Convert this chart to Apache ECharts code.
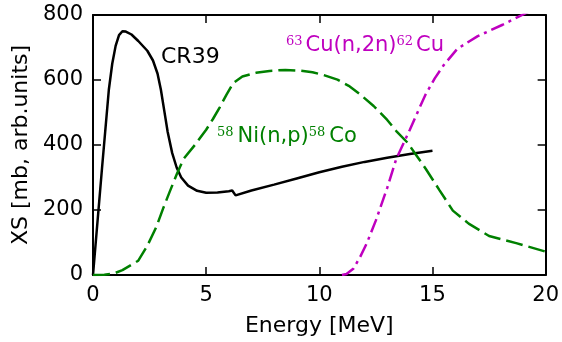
<!DOCTYPE html>
<html>
<head>
<meta charset="utf-8">
<script src="https://cdn.jsdelivr.net/npm/echarts@6/dist/echarts.min.js"></script>
<style>
  html, body { margin: 0; padding: 0; background: #fff; }
  #chart { width: 562px; height: 342px; }
</style>
</head>
<body>
<div id="chart"></div>
<script>
// 能量刻度 / 截面刻度
const xTicks = [0, 5, 10, 15, 20];
const yTicks = [0, 200, 400, 600, 800];

// CR39 响应曲线
const cr39E  = [0, 0.4, 0.7, 0.85, 1.0, 1.15, 1.3, 1.45, 1.7, 2.0, 2.4, 2.65, 2.85, 3.0, 3.15, 3.3, 3.5, 3.7, 3.9, 4.2, 4.6, 5.0, 5.5, 6.0, 6.15, 6.3, 7, 8, 9, 10, 11, 12, 13, 14, 15];
const cr39XS = [0, 330, 570, 650, 705, 738, 750, 749, 740, 720, 690, 660, 620, 570, 505, 440, 375, 330, 300, 275, 259, 253, 254, 258, 260, 245, 260, 278, 297, 316, 333, 348, 361, 372, 382];

// 58Ni(n,p)58Co
const niE  = [0, 0.5, 0.9, 1.3, 2.0, 2.4, 2.8, 3.1, 3.4, 3.7, 4.0, 4.5, 5.0, 5.3, 5.6, 5.9, 6.2, 6.6, 7.2, 7.8, 8.5, 9.1, 9.7, 10.2, 10.8, 11.3, 11.8, 12.4, 13.0, 13.4, 13.9, 14.3, 14.7, 15.3, 15.9, 16.6, 17.5, 18.7, 20];
const niXS = [0, 1, 4, 15, 44, 90, 148, 205, 258, 310, 357, 400, 447, 480, 516, 555, 591, 611, 622, 628, 631, 629, 624, 615, 601, 582, 556, 520, 477, 443, 407, 367, 327, 262, 198, 158, 120, 98, 72];

// 63Cu(n,2n)62Cu
const cuE  = [11.0, 11.2, 11.5, 11.8, 12.1, 12.5, 13.0, 13.4, 14.0, 14.4, 14.7, 15.1, 15.5, 16.1, 17.0, 18.1, 19.1, 20];
const cuXS = [0, 3, 19, 55, 98, 168, 268, 357, 447, 510, 556, 605, 646, 696, 735, 770, 805, 830];

const FONT = 'DejaVu Sans';
const zip = (a, b) => a.map((v, i) => [v, b[i]]);

let chart = echarts.init(document.getElementById('chart'));

// 公共的坐标轴样式（刻度朝内，黑色边框）
const axisBase = {
  type: 'value',
  axisLine: { show: true, onZero: false, lineStyle: { color: '#000', width: 2 } },
  axisTick: { show: true, inside: true, length: 8, lineStyle: { color: '#000', width: 1.5 } },
  splitLine: { show: false }
};

chart.setOption({
  animation: false,
  backgroundColor: '#fff',
  grid: { left: 93, right: 16, top: 15, bottom: 59 },
  xAxis: [
    Object.assign({}, axisBase, {
      position: 'bottom',
      min: xTicks[0], max: xTicks[xTicks.length - 1], interval: 5,
      axisLabel: { color: '#000', fontFamily: FONT, fontSize: 21, margin: 10 },
      name: 'Energy [MeV]',
      nameLocation: 'middle',
      nameGap: 40,
      nameTextStyle: { color: '#000', fontFamily: FONT, fontSize: 22 }
    }),
    Object.assign({}, axisBase, {
      position: 'top',
      min: xTicks[0], max: xTicks[xTicks.length - 1], interval: 5,
      axisLabel: { show: false }
    })
  ],
  yAxis: [
    Object.assign({}, axisBase, {
      position: 'left',
      min: yTicks[0], max: yTicks[yTicks.length - 1], interval: 200,
      axisLabel: { color: '#000', fontFamily: FONT, fontSize: 21, margin: 10 },
      name: 'XS [mb, arb.units]',
      nameLocation: 'middle',
      nameGap: 58,
      nameTextStyle: { color: '#000', fontFamily: FONT, fontSize: 22 }
    }),
    Object.assign({}, axisBase, {
      position: 'right',
      min: yTicks[0], max: yTicks[yTicks.length - 1], interval: 200,
      axisLabel: { show: false }
    })
  ],
  series: [
    {
      name: 'CR39',
      type: 'line',
      data: zip(cr39E, cr39XS),
      symbol: 'none',
      lineStyle: { color: '#000', width: 2.5 }
    },
    {
      name: 'Ni',
      type: 'line',
      data: zip(niE, niXS),
      symbol: 'none',
      lineStyle: { color: '#008000', width: 2.5, type: [17, 6] }
    },
    {
      name: 'Cu',
      type: 'line',
      data: zip(cuE, cuXS),
      symbol: 'none',
      clip: true,
      lineStyle: { color: '#bf00bf', width: 2.5, type: [14, 5, 3, 5] }
    }
  ],
  graphic: [
    {
      type: 'text', left: 161, top: 46,
      style: { text: 'CR39', fill: '#000', font: '22px "DejaVu Sans"' }
    },
    {
      type: 'text', left: 217, top: 126,
      style: {
        text: '{sup|58}{main|Ni(n,p)}{sup|58}{main|Co}',
        rich: {
          sup: { fill: '#008000', fontFamily: 'DejaVu Serif', fontSize: 13, verticalAlign: 'top', padding: [0, 4, 0, 0] },
          main: { fill: '#008000', fontFamily: FONT, fontSize: 21 }
        }
      }
    },
    {
      type: 'text', left: 286, top: 35,
      style: {
        text: '{sup|63}{main|Cu(n,2n)}{sup|62}{main|Cu}',
        rich: {
          sup: { fill: '#bf00bf', fontFamily: 'DejaVu Serif', fontSize: 13, verticalAlign: 'top', padding: [0, 3, 0, 0] },
          main: { fill: '#bf00bf', fontFamily: FONT, fontSize: 21 }
        }
      }
    }
  ]
});
</script>
</body>
</html>
